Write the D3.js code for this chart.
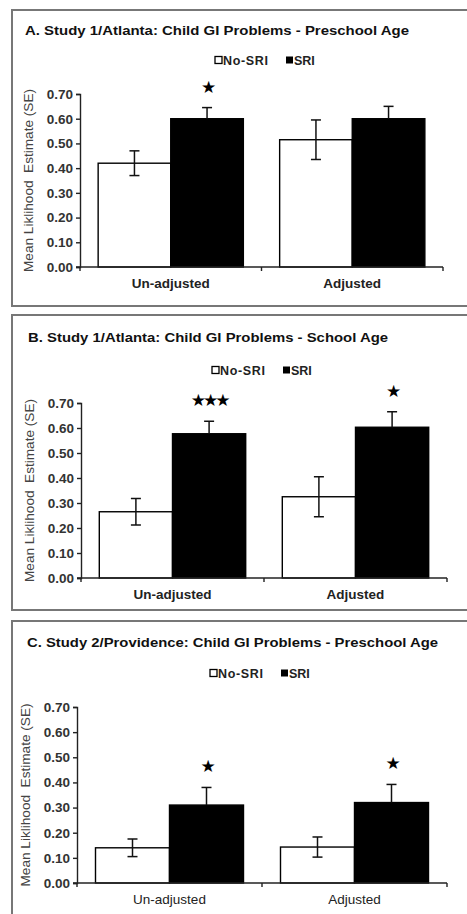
<!DOCTYPE html>
<html lang="en">
<head>
<meta charset="UTF-8">
<title>Child GI Problems</title>
<script src="https://d3js.org/d3.v7.min.js"></script>
<style>
  body { margin: 0; padding: 0; background: #fff; }
  text { font-family: "Liberation Sans", Arial, sans-serif; }
</style>
</head>
<body>
<svg id="chart" width="467" height="914"></svg>
<script>
// categories, series and ticks
const categories = ["Un-adjusted", "Adjusted"];
const seriesNames = ["No-SRI", "SRI"];
const yTicks = [0, 0.1, 0.2, 0.3, 0.4, 0.5, 0.6, 0.7];

// panel A
const noSriA = [0.42, 0.515];
const noSriErrA = [0.05, 0.08];
const sriA = [0.60, 0.60];
const sriErrA = [0.045, 0.05];
const starsA = ["★", ""];

// panel B
const noSriB = [0.265, 0.325];
const noSriErrB = [0.053, 0.08];
const sriB = [0.577, 0.603];
const sriErrB = [0.05, 0.062];
const starsB = ["★★★", "★"];

// panel C
const noSriC = [0.14, 0.143];
const noSriErrC = [0.035, 0.04];
const sriC = [0.31, 0.32];
const sriErrC = [0.07, 0.072];
const starsC = ["★", "★"];

const titles = [
  "A. Study 1/Atlanta: Child GI Problems - Preschool Age",
  "B. Study 1/Atlanta: Child GI Problems - School Age",
  "C. Study 2/Providence: Child GI Problems - Preschool Age"
];

const panels = [
  { title: titles[0], noSri: noSriA, noSriErr: noSriErrA, sri: sriA, sriErr: sriErrA, stars: starsA,
    box: [10, 306], titleY: 35, titleX: 25, titleW: 384, legendY: 60, legendX: 215,
    top: 94, bottom: 267, left: 80, right: 443, catBold: true },
  { title: titles[1], noSri: noSriB, noSriErr: noSriErrB, sri: sriB, sriErr: sriErrB, stars: starsB,
    box: [315, 610], titleY: 342, titleX: 28, titleW: 360, legendY: 370, legendX: 212,
    top: 403, bottom: 578, left: 81, right: 447, catBold: true },
  { title: titles[2], noSri: noSriC, noSriErr: noSriErrC, sri: sriC, sriErr: sriErrC, stars: starsC,
    box: [621, 940], titleY: 647, titleX: 27, titleW: 411, legendY: 673, legendX: 210,
    top: 707, bottom: 883, left: 77, right: 447, catBold: false }
];

const svg = d3.select("#chart");

panels.forEach(p => {
  const g = svg.append("g");

  // frame
  g.append("rect")
    .attr("x", 12).attr("y", p.box[0])
    .attr("width", 470).attr("height", p.box[1] - p.box[0])
    .attr("fill", "none").attr("stroke", "#777").attr("stroke-width", 2);

  // title
  g.append("text")
    .attr("x", p.titleX).attr("y", p.titleY)
    .attr("font-size", 13).attr("font-weight", "bold").attr("fill", "#111")
    .attr("textLength", p.titleW).attr("lengthAdjust", "spacingAndGlyphs")
    .text(p.title);

  // legend
  const leg = g.append("g").attr("transform", `translate(${p.legendX},${p.legendY})`);
  leg.append("rect").attr("x", 0).attr("y", -3.5).attr("width", 7).attr("height", 7)
    .attr("fill", "#fff").attr("stroke", "#000").attr("stroke-width", 1.3);
  leg.append("text").attr("x", 8).attr("y", 4.5).attr("font-size", 12.5).attr("font-weight", "bold")
    .attr("fill", "#222").attr("textLength", 45).text(seriesNames[0]);
  leg.append("rect").attr("x", 71).attr("y", -3.5).attr("width", 7).attr("height", 7).attr("fill", "#000");
  leg.append("text").attr("x", 79).attr("y", 4.5).attr("font-size", 12.5).attr("font-weight", "bold")
    .attr("fill", "#222").text(seriesNames[1]);

  // scales
  const y = d3.scaleLinear().domain([0, 0.7]).range([p.bottom, p.top]);
  const x0 = d3.scaleBand().domain(categories).range([p.left, p.right])
    .paddingInner(0.2).paddingOuter(0.1);
  const x1 = d3.scaleBand().domain(seriesNames).range([0, x0.bandwidth()]);

  // bars
  categories.forEach((c, i) => {
    const vals = [p.noSri[i], p.sri[i]];
    const errs = [p.noSriErr[i], p.sriErr[i]];
    seriesNames.forEach((s, j) => {
      const bx = x0(c) + x1(s);
      g.append("rect")
        .attr("x", bx).attr("y", y(vals[j]))
        .attr("width", x1.bandwidth()).attr("height", y(0) - y(vals[j]))
        .attr("fill", j === 0 ? "#fff" : "#000")
        .attr("stroke", "#000").attr("stroke-width", 1.4);
      const cx = bx + x1.bandwidth() / 2;
      const lo = y(vals[j] - errs[j]), hi = y(vals[j] + errs[j]);
      const ec = "#111";
      g.append("line").attr("x1", cx).attr("x2", cx).attr("y1", j === 1 ? y(vals[j]) : lo).attr("y2", hi)
        .attr("stroke", ec).attr("stroke-width", 1.5);
      (j === 1 ? [hi] : [lo, hi]).forEach(v => g.append("line").attr("x1", cx - 5).attr("x2", cx + 5)
        .attr("y1", v).attr("y2", v).attr("stroke", ec).attr("stroke-width", 1.5));
      if (j === 1 && p.stars[i]) {
        g.append("text").attr("x", cx).attr("y", hi - 15)
          .attr("text-anchor", "middle").attr("font-size", 17)
          .attr("letter-spacing", -3)
          .style("font-family", "'DejaVu Sans', sans-serif")
          .attr("fill", "#000").text(p.stars[i]);
      }
    });
  });

  // y axis
  const yAxis = g.append("g").attr("transform", `translate(${p.left},0)`)
    .call(d3.axisLeft(y).tickValues(yTicks).tickFormat(d3.format(".2f")).tickSizeOuter(0).tickSize(4));
  yAxis.select(".domain").attr("stroke", "#222").attr("stroke-width", 1.4);
  yAxis.selectAll(".tick line").attr("stroke", "#222").attr("stroke-width", 1.4);
  yAxis.selectAll(".tick text")
    .attr("font-size", 13.5).attr("font-weight", "bold").attr("fill", "#333")
    .attr("x", -7).style("font-family", "'Liberation Sans', Arial, sans-serif");

  // x axis
  const xAxis = g.append("g").attr("transform", `translate(0,${p.bottom})`);
  xAxis.append("line").attr("x1", p.left - 4).attr("x2", p.right).attr("y1", 0).attr("y2", 0)
    .attr("stroke", "#222").attr("stroke-width", 1.4);
  const bounds = [p.left, (p.left + p.right) / 2, p.right];
  xAxis.selectAll("line.tk").data(bounds).enter().append("line").attr("class", "tk")
    .attr("x1", d => d).attr("x2", d => d).attr("y1", 0).attr("y2", 4)
    .attr("stroke", "#222").attr("stroke-width", 1.4);
  xAxis.selectAll("text.cat").data(categories).enter().append("text").attr("class", "cat")
    .attr("x", d => x0(d) + x0.bandwidth() / 2).attr("y", 21)
    .attr("text-anchor", "middle").attr("font-size", 13.5)
    .attr("font-weight", p.catBold ? "bold" : "normal").attr("fill", "#222")
    .text(d => d);

  // y label
  g.append("text")
    .attr("transform", `translate(${p.left - 47},${(p.top + p.bottom) / 2}) rotate(-90)`)
    .attr("text-anchor", "middle").attr("font-size", 13).attr("fill", "#444")
    .attr("textLength", 183).attr("lengthAdjust", "spacingAndGlyphs")
    .style("white-space", "pre")
    .text("Mean Liklihood  Estimate (SE)");
});
</script>
</body>
</html>
